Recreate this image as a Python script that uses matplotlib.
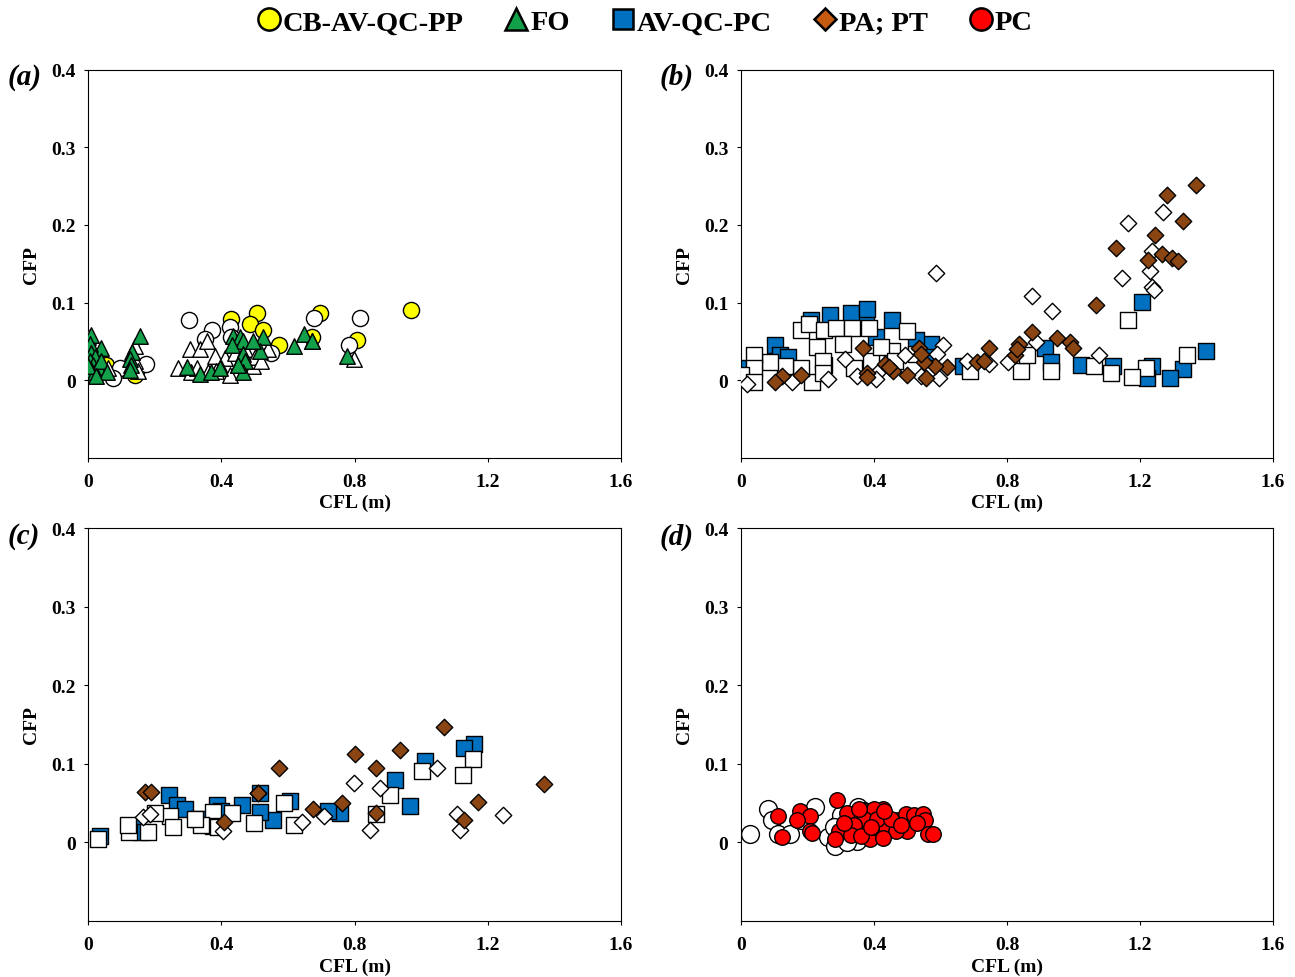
import matplotlib
matplotlib.use("Agg")
import matplotlib.pyplot as plt
from matplotlib.lines import Line2D

plt.rcParams['font.family'] = ['Liberation Serif', 'DejaVu Serif']
plt.rcParams['font.weight'] = 'bold'

# colours of the groups
c_yellow = '#FFFF00'
c_green = '#12A04A'
c_blue = '#0070C0'
c_brown = '#8B4513'
c_red = '#FF0000'

x_ticks = [0, 0.4, 0.8, 1.2, 1.6]
x_labels = ['0', '0.4', '0.8', '1.2', '1.6']
y_ticks = [0, 0.1, 0.2, 0.3, 0.4]
y_labels = ['0', '0.1', '0.2', '0.3', '0.4']

# ---- panel (a) ----
a_cb_x = [0.969, 0.507, 0.428, 0.486, 0.524, 0.695, 0.672, 0.572, 0.807, 0.054, 0.141, 0.146]
a_cb_y = [0.090, 0.087, 0.079, 0.072, 0.065, 0.086, 0.055, 0.045, 0.052, 0.019, 0.006, 0.014]
a_cbo_x = [0.304, 0.371, 0.351, 0.426, 0.677, 0.817, 0.782, 0.549, 0.096, 0.074, 0.174, 0.430]
a_cbo_y = [0.078, 0.064, 0.053, 0.068, 0.080, 0.080, 0.045, 0.035, 0.015, 0.003, 0.021, 0.055]
a_fo_x = [0.010, 0.040, 0.005, 0.010, 0.020, 0.005, 0.015, 0.030, 0.010, 0.020, 0.040, 0.056, 0.000, 0.025,
          0.156, 0.131, 0.126, 0.130, 0.125,
          0.296, 0.336, 0.368, 0.396, 0.436, 0.456, 0.466, 0.466, 0.470, 0.466, 0.526, 0.516, 0.496,
          0.431, 0.450, 0.617, 0.649, 0.672, 0.777]
a_fo_y = [0.058, 0.042, 0.046, 0.035, 0.030, 0.025, 0.020, 0.017, 0.013, 0.010, 0.025, 0.010, 0.018, 0.005,
          0.057, 0.036, 0.027, 0.020, 0.013,
          0.017, 0.008, 0.010, 0.016, 0.057, 0.055, 0.050, 0.034, 0.025, 0.010, 0.055, 0.037, 0.050,
          0.045, 0.020, 0.044, 0.059, 0.050, 0.031]
a_foo_x = [0.000, 0.000, 0.010, 0.030, 0.050, 0.140, 0.140, 0.150, 0.270, 0.306, 0.310, 0.336, 0.328, 0.356,
           0.381, 0.410, 0.400, 0.426, 0.440, 0.450, 0.470, 0.496, 0.500, 0.520, 0.540, 0.360, 0.385,
           0.672, 0.797, 0.060]
a_foo_y = [0.055, 0.040, 0.028, 0.020, 0.012, 0.044, 0.025, 0.012, 0.016, 0.040, 0.010, 0.040, 0.015, 0.050,
           0.031, 0.028, 0.016, 0.006, 0.035, 0.020, 0.040, 0.018, 0.030, 0.025, 0.040, 0.010, 0.012,
           0.050, 0.027, 0.015]

# ---- panel (b) ----
b_pa_x = [1.369, 1.281, 1.329, 1.245, 1.129, 1.267, 1.295, 1.315, 1.225, 1.067, 0.876, 0.950, 0.990, 0.998,
          0.835, 0.824, 0.747, 0.711, 0.730, 0.620, 0.582, 0.551, 0.535, 0.540, 0.556, 0.499, 0.458, 0.432,
          0.445, 0.368, 0.378, 0.380, 0.179, 0.122, 0.101, 0.830]
b_pa_y = [0.251, 0.239, 0.205, 0.187, 0.170, 0.162, 0.157, 0.154, 0.155, 0.097, 0.062, 0.054, 0.049, 0.041,
          0.046, 0.032, 0.041, 0.023, 0.025, 0.017, 0.018, 0.023, 0.041, 0.034, 0.003, 0.007, 0.012, 0.021,
          0.017, 0.041, 0.009, 0.004, 0.006, 0.005, -0.002, 0.040]
b_pao_x = [1.163, 1.269, 1.235, 1.229, 1.147, 1.235, 1.243, 0.587, 0.876, 0.936, 1.077, 0.886, 0.804, 0.747,
           0.680, 0.607, 0.597, 0.590, 0.540, 0.494, 0.416, 0.406, 0.349, 0.313, 0.261, 0.153, 0.019]
b_pao_y = [0.203, 0.217, 0.167, 0.141, 0.132, 0.120, 0.116, 0.138, 0.108, 0.089, 0.033, 0.049, 0.023, 0.021,
           0.025, 0.045, 0.003, 0.034, 0.005, 0.032, 0.012, 0.001, 0.005, 0.027, 0.001, -0.002, -0.005]
b_av_x = [1.205, 1.398, 1.329, 1.289, 1.235, 1.222, 1.119, 1.023, 0.915, 0.933, 0.667, 0.453, 0.375, 0.331,
          0.268, 0.212, 0.380, 0.101, 0.117, 0.571, 0.525, 0.000, 0.406, 0.140, 0.250, 0.560]
b_av_y = [0.101, 0.037, 0.014, 0.003, 0.018, 0.003, 0.018, 0.020, 0.042, 0.023, 0.018, 0.078, 0.085, 0.087,
          0.084, 0.078, 0.092, 0.045, 0.032, 0.047, 0.052, 0.016, 0.056, 0.030, 0.020, 0.030]
b_avo_x = [1.165, 1.341, 1.217, 1.176, 1.114, 1.062, 0.933, 0.843, 0.861, 0.690, 0.179, 0.204, 0.251, 0.287,
           0.334, 0.385, 0.499, 0.453, 0.390, 0.339, 0.230, 0.246, 0.215, 0.246, 0.179, 0.132, 0.086, 0.039,
           0.039, 0.000, 0.039, 0.308, 0.422, 0.525, 0.566, 0.463]
b_avo_y = [0.078, 0.032, 0.016, 0.004, 0.009, 0.018, 0.012, 0.012, 0.032, 0.012, 0.065, 0.072, 0.065, 0.067,
           0.067, 0.067, 0.063, 0.038, 0.025, 0.016, 0.043, 0.025, -0.002, 0.009, 0.016, 0.018, 0.023, 0.032,
           0.016, 0.007, -0.002, 0.047, 0.043, 0.034, 0.016, 0.025]

# ---- panel (c) ----
c_pa_x = [1.067, 0.802, 0.935, 0.865, 0.572, 1.369, 1.172, 1.127, 0.865, 0.762, 0.675, 0.408, 0.171, 0.188, 0.511]
c_pa_y = [0.147, 0.112, 0.117, 0.094, 0.094, 0.074, 0.051, 0.029, 0.038, 0.050, 0.043, 0.026, 0.064, 0.064, 0.063]
c_pao_x = [0.799, 0.875, 1.047, 0.845, 1.107, 1.115, 1.245, 0.709, 0.642, 0.404, 0.166, 0.186, 0.510]
c_pao_y = [0.076, 0.069, 0.094, 0.016, 0.036, 0.016, 0.035, 0.034, 0.026, 0.015, 0.032, 0.036, 0.063]
c_av_x = [1.159, 1.127, 1.012, 0.922, 0.965, 0.755, 0.719, 0.607, 0.555, 0.515, 0.515, 0.461, 0.386, 0.244,
          0.266, 0.290, 0.386, 0.036, 0.141, 0.160, 0.330, 0.400]
c_av_y = [0.125, 0.120, 0.104, 0.079, 0.046, 0.038, 0.040, 0.053, 0.029, 0.039, 0.063, 0.048, 0.048, 0.060,
          0.048, 0.042, 0.033, 0.008, 0.019, 0.013, 0.030, 0.040]
c_avo_x = [1.155, 1.125, 1.002, 0.905, 0.865, 0.589, 0.617, 0.497, 0.431, 0.375, 0.375, 0.246, 0.255, 0.200,
           0.181, 0.124, 0.120, 0.031, 0.340, 0.390, 0.320]
c_avo_y = [0.106, 0.086, 0.091, 0.060, 0.036, 0.050, 0.022, 0.025, 0.037, 0.039, 0.021, 0.033, 0.019, 0.038,
           0.013, 0.013, 0.022, 0.004, 0.022, 0.020, 0.030]

# ---- panel (d) ----
d_pc_x = [0.290, 0.112, 0.177, 0.207, 0.167, 0.122, 0.207, 0.215, 0.294, 0.282, 0.320, 0.377, 0.427, 0.400,
          0.347, 0.387, 0.402, 0.437, 0.472, 0.497, 0.520, 0.547, 0.554, 0.562, 0.577, 0.500, 0.466, 0.427,
          0.370, 0.340, 0.330, 0.360, 0.410, 0.450, 0.390, 0.430, 0.480, 0.355, 0.310, 0.530]
d_pc_y = [0.054, 0.034, 0.040, 0.033, 0.028, 0.007, 0.015, 0.012, 0.015, 0.004, 0.038, 0.040, 0.043, 0.042,
          0.013, 0.004, 0.019, 0.019, 0.028, 0.036, 0.035, 0.036, 0.028, 0.011, 0.011, 0.015, 0.015, 0.006,
          0.030, 0.022, 0.010, 0.008, 0.030, 0.030, 0.020, 0.040, 0.022, 0.042, 0.025, 0.025]
d_pco_x = [0.027, 0.082, 0.092, 0.112, 0.147, 0.180, 0.222, 0.262, 0.282, 0.310, 0.300, 0.290, 0.330, 0.350,
           0.353, 0.340, 0.320, 0.370, 0.300, 0.280]
d_pco_y = [0.011, 0.043, 0.028, 0.011, 0.011, 0.028, 0.045, 0.007, -0.004, 0.028, 0.015, 0.022, 0.010, 0.002,
           0.045, 0.030, 0.000, 0.040, 0.035, 0.020]

fig = plt.figure(figsize=(12.95, 9.78), dpi=100)
ax_a = fig.add_axes([0.068, 0.531, 0.4116, 0.3966])
ax_b = fig.add_axes([0.5722, 0.531, 0.4108, 0.3966])
ax_c = fig.add_axes([0.068, 0.0573, 0.4116, 0.4018])
ax_d = fig.add_axes([0.5722, 0.0573, 0.4108, 0.4018])

ec = 'black'
lw = 1.0

# (a)
ax_a.scatter(a_cb_x, a_cb_y, s=135, marker='o', facecolor=c_yellow, edgecolor=ec, linewidth=lw, zorder=2)
ax_a.scatter(a_cbo_x, a_cbo_y, s=135, marker='o', facecolor='white', edgecolor=ec, linewidth=lw, zorder=3)
ax_a.scatter(a_foo_x, a_foo_y, s=125, marker='^', facecolor='white', edgecolor=ec, linewidth=lw, zorder=3)
ax_a.scatter(a_fo_x, a_fo_y, s=125, marker='^', facecolor=c_green, edgecolor=ec, linewidth=lw, zorder=4)

# (b)
ax_b.scatter(b_av_x, b_av_y, s=140, marker='s', facecolor=c_blue, edgecolor=ec, linewidth=lw, zorder=2)
ax_b.scatter(b_avo_x, b_avo_y, s=140, marker='s', facecolor='white', edgecolor=ec, linewidth=lw, zorder=3)
ax_b.scatter(b_pao_x, b_pao_y, s=70, marker='D', facecolor='white', edgecolor=ec, linewidth=lw, zorder=4)
ax_b.scatter(b_pa_x, b_pa_y, s=70, marker='D', facecolor=c_brown, edgecolor=ec, linewidth=lw, zorder=5)

# (c)
ax_c.scatter(c_av_x, c_av_y, s=140, marker='s', facecolor=c_blue, edgecolor=ec, linewidth=lw, zorder=2)
ax_c.scatter(c_avo_x, c_avo_y, s=140, marker='s', facecolor='white', edgecolor=ec, linewidth=lw, zorder=3)
ax_c.scatter(c_pao_x, c_pao_y, s=70, marker='D', facecolor='white', edgecolor=ec, linewidth=lw, zorder=4)
ax_c.scatter(c_pa_x, c_pa_y, s=70, marker='D', facecolor=c_brown, edgecolor=ec, linewidth=lw, zorder=5)

# (d)
ax_d.scatter(d_pco_x, d_pco_y, s=165, marker='o', facecolor='white', edgecolor=ec, linewidth=lw, zorder=2)
ax_d.scatter(d_pc_x, d_pc_y, s=125, marker='o', facecolor=c_red, edgecolor=ec, linewidth=lw, zorder=3)

for ax in [ax_a, ax_b, ax_c, ax_d]:
    ax.set_xlim(0, 1.6)
    ax.set_ylim(-0.1, 0.4)
    ax.set_xticks(x_ticks)
    ax.set_xticklabels(x_labels)
    ax.set_yticks(y_ticks)
    ax.set_yticklabels(y_labels)
    ax.tick_params(axis='both', labelsize=14, length=3, width=0.8, direction='out')
    ax.tick_params(axis='x', pad=8)
    ax.tick_params(axis='y', pad=6)
    for t in ax.get_xticklabels() + ax.get_yticklabels():
        t.set_fontweight('bold')
    for sp in ax.spines.values():
        sp.set_linewidth(0.8)
    ax.set_xlabel('CFL (m)', fontsize=14, fontweight='bold', labelpad=3)
    ax.set_ylabel('CFP', fontsize=14, fontweight='bold', labelpad=8)

fig.text(0.006, 0.921, '(a)', fontsize=21, fontweight='bold', style='italic', va='center')
fig.text(0.509, 0.921, '(b)', fontsize=21, fontweight='bold', style='italic', va='center')
fig.text(0.006, 0.451, '(c)', fontsize=21, fontweight='bold', style='italic', va='center')
fig.text(0.509, 0.451, '(d)', fontsize=21, fontweight='bold', style='italic', va='center')

# legend
names = ['CB-AV-QC-PP', 'FO', 'AV-QC-PC', 'PA; PT', 'PC']
handles = [
    Line2D([], [], ls='none', marker='o', markersize=16, markerfacecolor=c_yellow, markeredgecolor=ec, markeredgewidth=1.8),
    Line2D([], [], ls='none', marker='^', markersize=16, markerfacecolor=c_green, markeredgecolor=ec, markeredgewidth=1.8),
    Line2D([], [], ls='none', marker='s', markersize=15, markerfacecolor=c_blue, markeredgecolor=ec, markeredgewidth=1.8),
    Line2D([], [], ls='none', marker='D', markersize=11, markerfacecolor='#C55A11', markeredgecolor=ec, markeredgewidth=1.8),
    Line2D([], [], ls='none', marker='o', markersize=16, markerfacecolor=c_red, markeredgecolor=ec, markeredgewidth=1.8),
]
fig.legend(handles, names, loc='center', bbox_to_anchor=(0.497, 0.976), ncol=5, frameon=False,
           prop={'size': 20.5, 'weight': 'bold'}, handletextpad=0.0, columnspacing=1.35, handlelength=1.0)

fig.savefig('out.png', dpi=100)
